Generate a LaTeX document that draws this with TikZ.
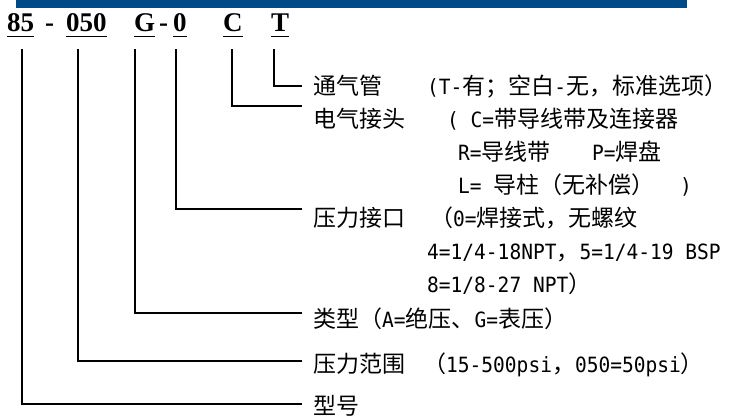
\documentclass[tikz,border=0pt]{standalone}
\usepackage{fontspec}
\setmainfont{Liberation Serif}
\newfontfamily\cjkf{Noto Sans CJK SC}
\newfontfamily\monof[FakeStretch=0.93]{DejaVu Sans Mono}
\newcommand{\m}[1]{{\monof\fontsize{21pt}{22pt}\selectfont #1}}
\definecolor{barblue}{HTML}{004B87}
\begin{document}
\begin{tikzpicture}[x=1pt,y=-1pt,
  code/.style={anchor=base west, inner sep=0pt, font=\fontsize{27pt}{27pt}\selectfont\bfseries},
  lbl/.style={anchor=base west, inner sep=0pt, font=\cjkf\fontsize{23pt}{24pt}\selectfont},
  conn/.style={line width=1.2pt},
  uline/.style={line width=1.5pt}]
\useasboundingbox (0,0) rectangle (730,415);
\fill[barblue] (16,0) rectangle (687,7.5);
% code
\node[code] (c85) at (7,31.5) {85};
\node[code] (d1) at (45,31.5) {-};
\node[code] (c050) at (66,31.5) {050};
\node[code] (cG) at (134,31.5) {G};
\node[code] (d2) at (159,31.5) {-};
\node[code] (c0) at (173,31.5) {0};
\node[code] (cC) at (223,31.5) {C};
\node[code] (cT) at (271,31.5) {T};
\foreach \n in {c85,c050,cG,c0,cC,cT}
  \draw[uline] ([yshift=-5pt]\n.base west) -- ([yshift=-5pt]\n.base east);
% connector start / end points
\coordinate (s85) at (22,49);
\coordinate (s050) at (78,49);
\coordinate (sG) at (135,49);
\coordinate (s0) at (176,49);
\coordinate (sC) at (232,49);
\coordinate (sT) at (274,49);
\coordinate (eT) at (302,86);
\coordinate (eC) at (302,106);
\coordinate (e0) at (302,209);
\coordinate (eG) at (302,313);
\coordinate (e050) at (302,361);
\coordinate (e85) at (302,404);
\draw[conn] (sT) |- (eT);
\draw[conn] (sC) |- (eC);
\draw[conn] (s0) |- (e0);
\draw[conn] (sG) |- (eG);
\draw[conn] (s050) |- (e050);
\draw[conn] (s85) |- (e85);
% labels
\node[lbl] (l1a) at (313,94) {通气管};
\node[lbl] (l1b) at (427,94) {\m{(T-}有；空白\m{-}无，标准选项）};
\node[lbl] (l2a) at (313,127) {电气接头};
\node[lbl] (l2b) at (447,127) {\m{(\ C=}带导线带及连接器};
\node[lbl] (l3a) at (458,160) {\m{R=}导线带};
\node[lbl] (l3b) at (592,160) {\m{P=}焊盘};
\node[lbl] (l4a) at (458,193) {\m{L=\ }导柱（无补偿）};
\node[lbl] (l4b) at (680,193) {\m{)}};
\node[lbl] (l5a) at (313,226) {压力接口};
\node[lbl] (l5b) at (430,226) {（\m{0=}焊接式，无螺纹};
\node[lbl] (l6) at (427,259) {\m{4=1/4-18NPT}，\m{5=1/4-19\ BSP}};
\node[lbl] (l7) at (427,292) {\m{8=1/8-27\ NPT}）};
\node[lbl] (l8) at (313,327) {类型（\m{A=}绝压、\m{G=}表压）};
\node[lbl] (l9a) at (313,372) {压力范围};
\node[lbl] (l9b) at (423,372) {（\m{15-500psi}，\m{050=50psi}）};
\node[lbl] (l10) at (313,414) {型号};
\end{tikzpicture}
\end{document}
